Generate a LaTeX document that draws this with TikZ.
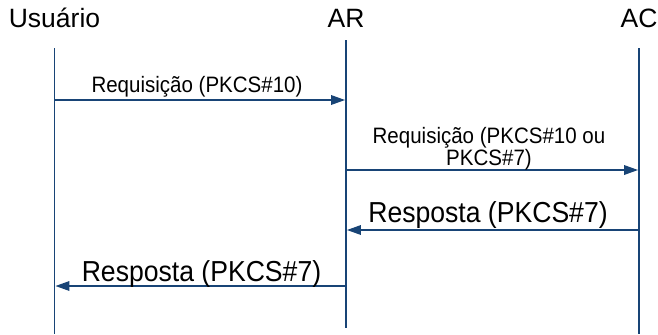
\documentclass[tikz,border=0pt]{standalone}
\usepackage{fontspec}
\setmainfont{Liberation Sans}
\newfontfamily\labelfont[FakeStretch=0.92]{Liberation Sans}
\usetikzlibrary{arrows.meta}
\definecolor{lineblue}{RGB}{24,68,118}
\tikzset{
  lifeline/.style={draw=lineblue, line width=1.7bp},
  msg/.style={draw=lineblue, line width=1.7bp, -{Triangle[length=14bp,width=9.5bp]}, shorten >=0.9bp},
  actor/.style={anchor=base, inner sep=0pt, font=\fontsize{26.5bp}{30bp}\selectfont},
  smalllabel/.style={anchor=base, inner sep=0pt, align=center, font=\labelfont\fontsize{22.3bp}{24bp}\selectfont},
  biglabel/.style={anchor=base, inner sep=0pt, font=\labelfont\fontsize{28.9bp}{32bp}\selectfont},
}
\begin{document}
\begin{tikzpicture}[x=1bp, y=-1bp]
  \useasboundingbox (0,0) rectangle (658,334);

  % participants
  \node[actor] (user) at (54.5,27) {Usuário};
  \node[actor] (ar)   at (346,27)  {AR};
  \node[actor] (ac)   at (639,27)  {AC};

  % lifeline ends
  \coordinate (userTop) at (54.5,48);  \coordinate (userBot) at (54.5,334);
  \coordinate (arTop)   at (346,40);   \coordinate (arBot)   at (346,328);
  \coordinate (acTop)   at (639,48);   \coordinate (acBot)   at (639,334);

  \draw[lifeline] (userTop) -- (userBot);
  \draw[lifeline] (arTop) -- (arBot);
  \draw[lifeline] (acTop) -- (acBot);

  % message points on the lifelines
  \coordinate (u1) at (54.5,100); \coordinate (r1) at (346,100);
  \coordinate (r2) at (346,170);  \coordinate (c2) at (639,170);
  \coordinate (c3) at (639,230);  \coordinate (r3) at (346,230);
  \coordinate (r4) at (346,286);  \coordinate (u4) at (54.5,286);

  % messages
  \draw[msg] (u1) -- (r1);
  \node[smalllabel] (m1) at (197,92) {Requisição (PKCS\#10)};

  \draw[msg] (r2) -- (c2);
  \node[smalllabel] (m2a) at (489,143) {Requisição (PKCS\#10 ou};
  \node[smalllabel] (m2b) at (489,165) {PKCS\#7)};

  \draw[msg] (c3) -- (r3);
  \node[biglabel] (m3) at (488,222) {Resposta (PKCS\#7)};

  \draw[msg] (r4) -- (u4);
  \node[biglabel] (m4) at (201.5,281) {Resposta (PKCS\#7)};
\end{tikzpicture}
\end{document}
